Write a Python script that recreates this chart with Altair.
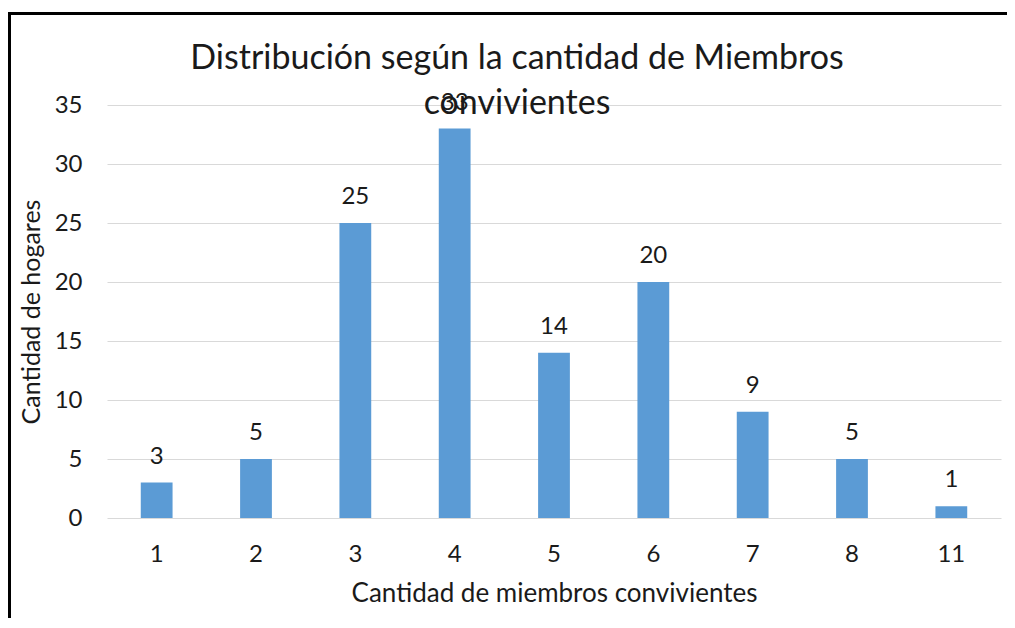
import altair as alt
import pandas as pd

categorias = ["1", "2", "3", "4", "5", "6", "7", "8", "11"]
hogares = [3, 5, 25, 33, 14, 20, 9, 5, 1]

df = pd.DataFrame({"miembros": categorias, "hogares": hogares})

FONT = "Lato"
TXT = "#1a1a1a"

x_enc = alt.X(
    "miembros:N",
    sort=categorias,
    scale=alt.Scale(paddingInner=0.68, paddingOuter=0.34),
    axis=alt.Axis(
        title="Cantidad de miembros convivientes",
        labelAngle=0,
        domain=False,
        ticks=False,
        labelPadding=24,
        labelFontSize=24,
        labelFont=FONT,
        labelColor=TXT,
        titleFontSize=26,
        titleFont=FONT,
        titleFontWeight="normal",
        titleColor=TXT,
        titlePadding=14,
    ),
)
y_enc = alt.Y(
    "hogares:Q",
    scale=alt.Scale(domain=[0, 35], nice=False),
    axis=alt.Axis(
        title="Cantidad de hogares",
        values=[0, 5, 10, 15, 20, 25, 30, 35],
        domain=False,
        ticks=False,
        labelPadding=25,
        labelFontSize=24,
        labelFont=FONT,
        labelColor=TXT,
        gridColor="#d9d9d9",
        gridWidth=1,
        titleFontSize=25,
        titleFont=FONT,
        titleFontWeight="normal",
        titleColor=TXT,
        titlePadding=10,
    ),
)

bars = alt.Chart(df).mark_bar(color="#5B9BD5").encode(x=x_enc, y=y_enc)
labels = alt.Chart(df).mark_text(
    baseline="alphabetic", dy=-19, fontSize=24, font=FONT, color=TXT
).encode(x=alt.X("miembros:N", sort=categorias), y="hogares:Q", text="hogares:Q")

frame_top = alt.Chart(df).mark_rule(color="black", strokeWidth=3).encode(
    x=alt.value(-99), x2=alt.value(920), y=alt.value(-91.5)
)
frame_left = alt.Chart(df).mark_rule(color="black", strokeWidth=3).encode(
    x=alt.value(-97.5), y=alt.value(-93), y2=alt.value(520)
)

chart = (
    alt.layer(bars, labels, frame_top, frame_left)
    .properties(
        width=894,
        height=413,
        autosize=alt.AutoSizeParams(type="none"),
        padding={"left": 99, "top": 97, "right": 6, "bottom": 100},
        title=alt.TitleParams(
            text=["Distribución según la cantidad de Miembros", "convivientes"],
            font=FONT,
            fontSize=34,
            fontWeight="normal",
            color=TXT,
            lineHeight=45,
            anchor="middle",
            baseline="alphabetic",
            offset=0,
            dy=137,
            dx=-37,
        ),
    )
    .configure_view(stroke=None)
)

chart.save("out.html", embed_options={"renderer": "svg", "actions": False})
